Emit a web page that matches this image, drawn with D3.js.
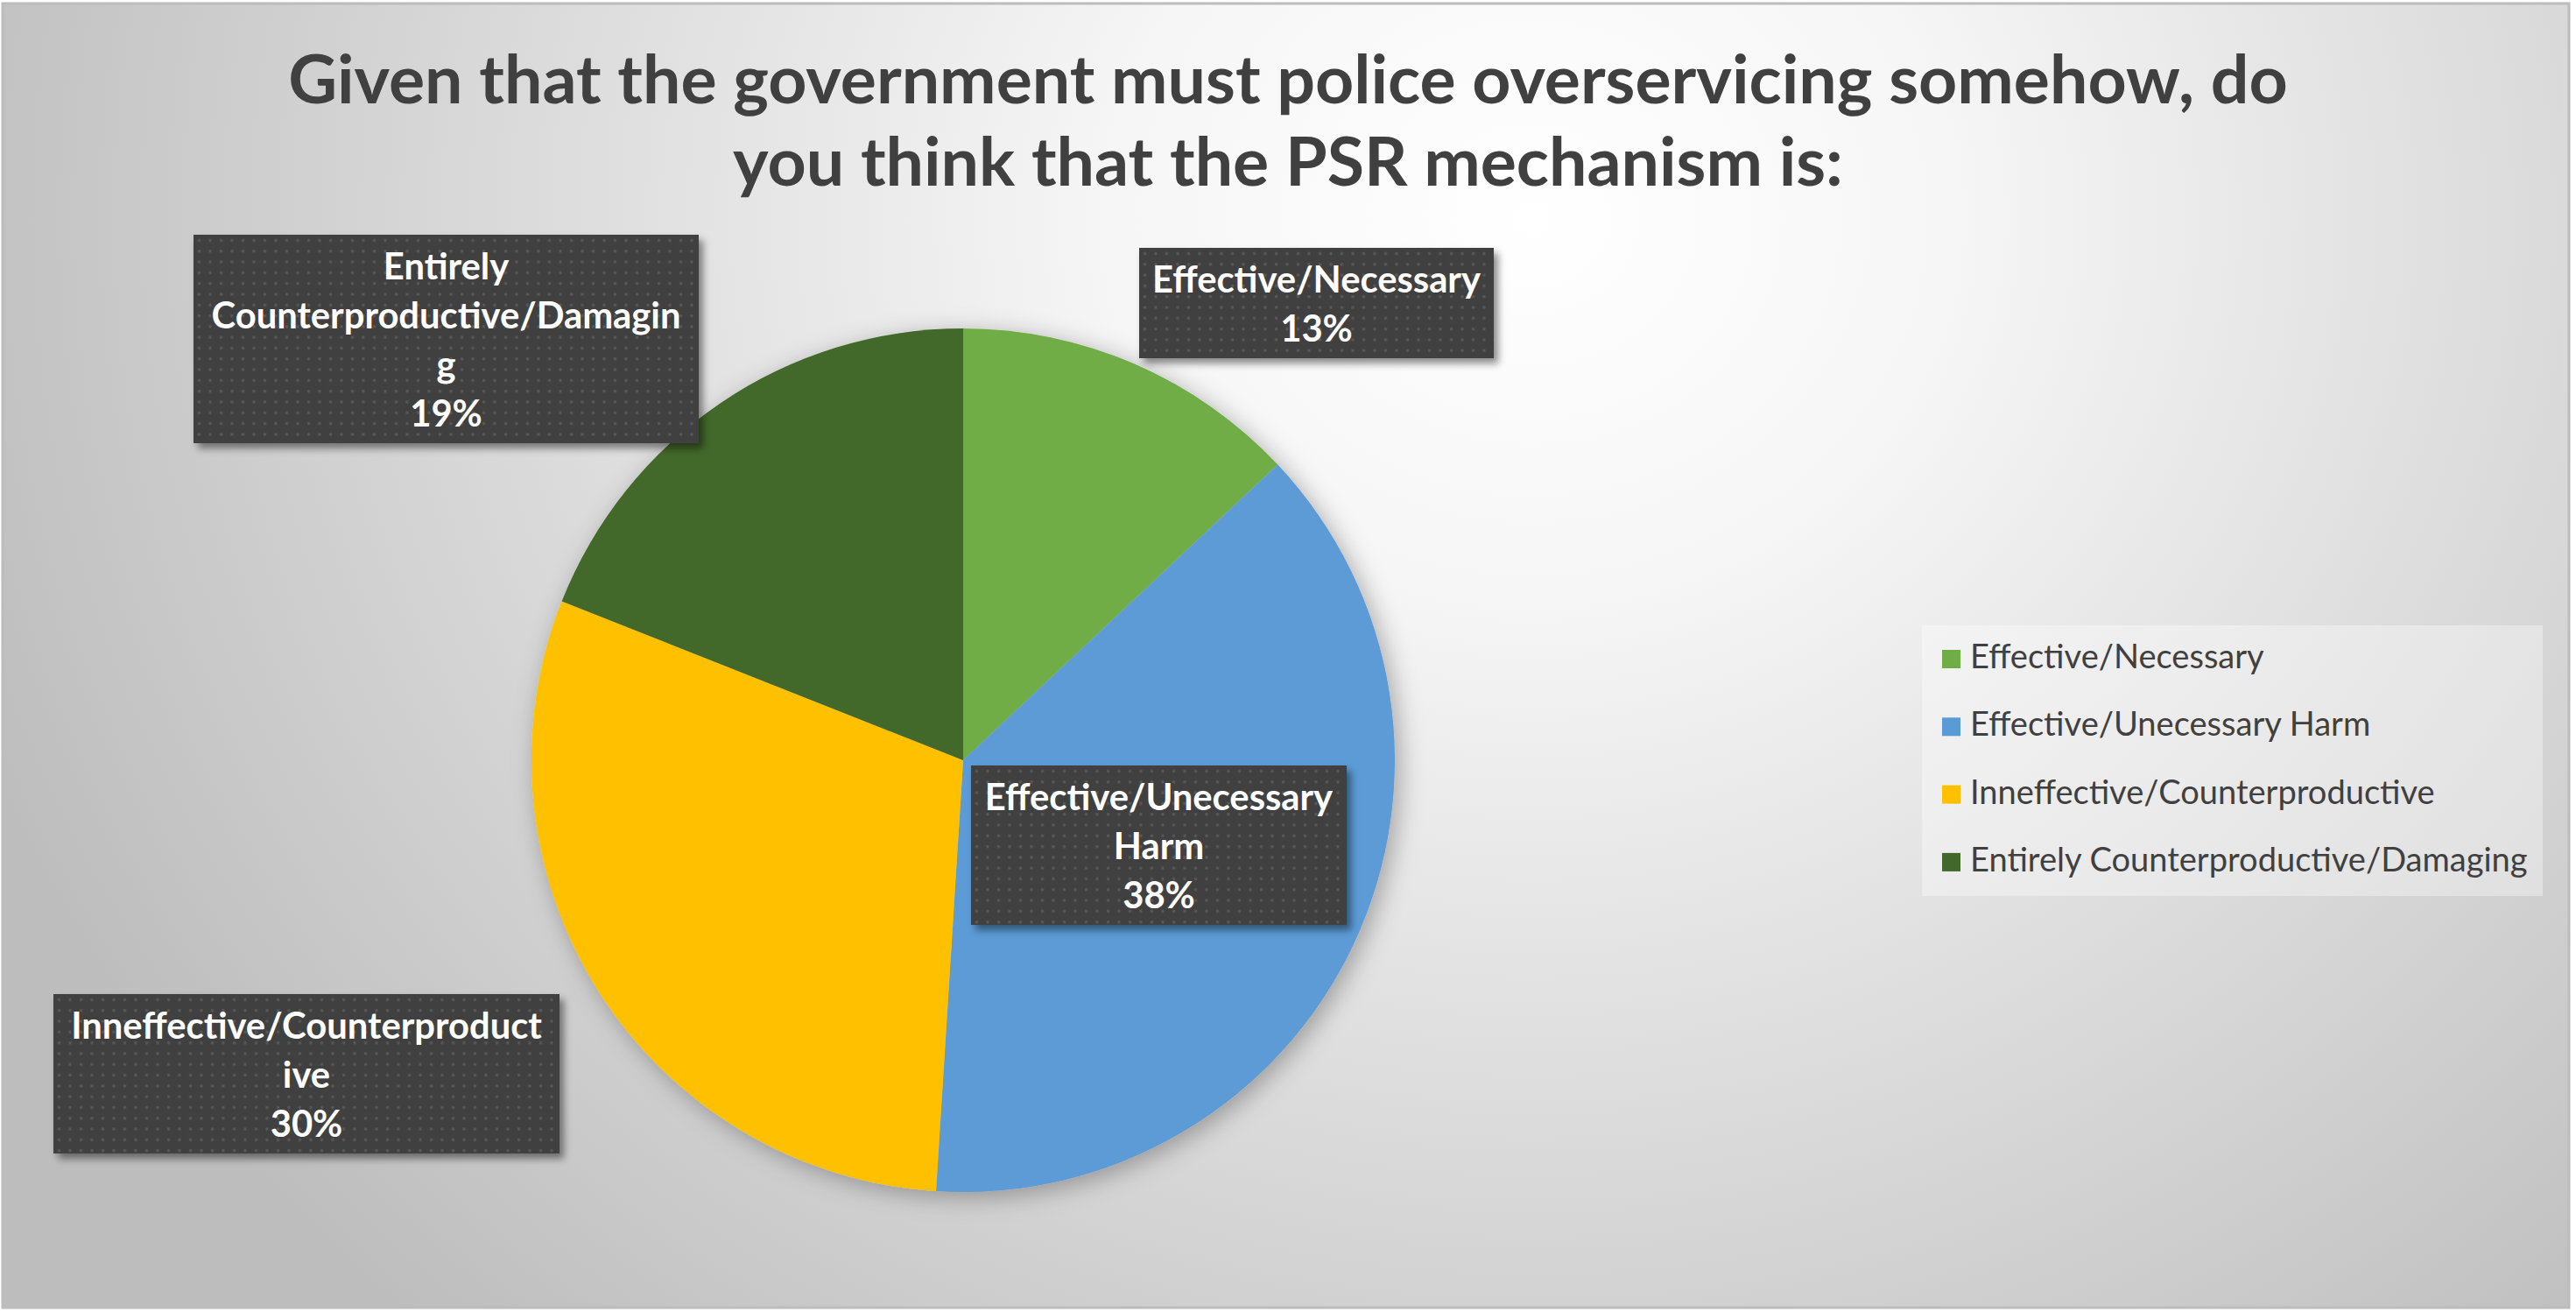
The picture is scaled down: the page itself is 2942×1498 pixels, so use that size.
<!DOCTYPE html>
<html>
<head>
<meta charset="utf-8">
<script src="https://cdn.jsdelivr.net/npm/d3@7"></script>
<style>
  body { margin: 0; background: #ffffff; }
  svg { display: block; }
</style>
</head>
<body>
<div id="chart"></div>
<script>
// data
const categories = ["Effective/Necessary", "Effective/Unecessary Harm", "Inneffective/Counterproductive", "Entirely Counterproductive/Damaging"];
const values = [13, 38, 30, 19];
const sliceColors = ["#70AD47", "#5B9BD5", "#FFC000", "#43682B"];
// data label text as it wraps in the original boxes
const labelLines = [
  ["Effective/Necessary"],
  ["Effective/Unecessary", "Harm"],
  ["Inneffective/Counterproduct", "ive"],
  ["Entirely", "Counterproductive/Damagin", "g"]
];
const titleLines = ["Given that the government must police overservicing somehow, do", "you think that the PSR mechanism is:"];

// layout
const W = 2942, H = 1498;
const cx = 1100, cy = 868, radius = 493;
const labelBoxes = [
  {x: 1301, y: 283, w: 405},
  {x: 1109, y: 874, w: 429},
  {x: 61, y: 1135, w: 578},
  {x: 221, y: 268, w: 577}
];
const lineH = 56;
const font = "Lato, 'Open Sans', sans-serif";

const svg = d3.select("#chart")
  .append("svg")
    .attr("width", W)
    .attr("height", H);

const defs = svg.append("defs");

// background gradient
const grad = defs.append("radialGradient")
    .attr("id", "bg")
    .attr("gradientUnits", "userSpaceOnUse")
    .attr("cx", 1750).attr("cy", 250).attr("r", 1900)
    .attr("gradientTransform", "translate(1750,250) scale(1,0.9) translate(-1750,-250)");
grad.append("stop").attr("offset", 0).attr("stop-color", "#ffffff");
grad.append("stop").attr("offset", 0.25).attr("stop-color", "#f6f6f6");
grad.append("stop").attr("offset", 1).attr("stop-color", "#bdbdbd");

// dotted fill of the label boxes
const pat = defs.append("pattern")
    .attr("id", "dots")
    .attr("patternUnits", "userSpaceOnUse")
    .attr("width", 12.5).attr("height", 12.3);
pat.append("rect").attr("width", 12.5).attr("height", 12.3).attr("fill", "#404040");
pat.append("rect").attr("x", 5).attr("y", 5).attr("width", 3).attr("height", 3).attr("fill", "#595959");

const shadow = defs.append("filter").attr("id", "boxShadow")
    .attr("x", "-10%").attr("y", "-10%").attr("width", "130%").attr("height", "140%");
shadow.append("feDropShadow")
    .attr("dx", 5).attr("dy", 6).attr("stdDeviation", 4)
    .attr("flood-color", "#000").attr("flood-opacity", 0.45);

const pieShadow = defs.append("filter").attr("id", "pieShadow")
    .attr("x", "-20%").attr("y", "-20%").attr("width", "140%").attr("height", "140%");
pieShadow.append("feDropShadow")
    .attr("dx", 6).attr("dy", 6).attr("stdDeviation", 14)
    .attr("flood-color", "#000").attr("flood-opacity", 0.3);

// chart area
svg.append("rect")
    .attr("x", 3).attr("y", 4)
    .attr("width", 2931).attr("height", 1489)
    .attr("fill", "url(#bg)")
    .attr("stroke", "#bcbcbc")
    .attr("stroke-width", 3);

// helper: pick a font size so that a text gets a target width
function fitSize(str, weight, target) {
  const t = svg.append("text")
      .style("font-family", font)
      .style("font-weight", weight)
      .style("font-size", "100px")
      .text(str);
  const len = t.node().getComputedTextLength();
  t.remove();
  return 100 * target / len;
}

// title
const titleSize = fitSize(titleLines[0], 700, 2284);
svg.append("g").selectAll("text")
  .data(titleLines)
  .enter()
  .append("text")
    .attr("x", W / 2)
    .attr("y", (d, i) => 118 + i * 94)
    .attr("text-anchor", "middle")
    .style("font-family", font)
    .style("font-weight", 700)
    .style("font-size", titleSize + "px")
    .style("fill", "#404040")
    .text(d => d);

// pie
const pie = d3.pie().sort(null).value(d => d);
const arc = d3.arc().innerRadius(0).outerRadius(radius);
const arcs = pie(values);

svg.append("g")
    .attr("transform", `translate(${cx},${cy})`)
    .attr("filter", "url(#pieShadow)")
  .selectAll("path")
  .data(arcs)
  .enter()
  .append("path")
    .attr("d", arc)
    .attr("fill", (d, i) => sliceColors[i]);

// data labels
const labelSize = fitSize(labelLines[0][0], 700, 375);
const total = d3.sum(values);
const labels = svg.append("g").selectAll("g")
  .data(arcs)
  .enter()
  .append("g")
    .attr("transform", (d, i) => `translate(${labelBoxes[i].x},${labelBoxes[i].y})`);

labels.append("rect")
    .attr("width", (d, i) => labelBoxes[i].w)
    .attr("height", (d, i) => 14 + lineH * (labelLines[i].length + 1))
    .attr("fill", "url(#dots)")
    .attr("filter", "url(#boxShadow)");

labels.each(function(d, i) {
  const lines = labelLines[i].concat([Math.round(d.value / total * 100) + "%"]);
  d3.select(this).selectAll("text")
    .data(lines)
    .enter()
    .append("text")
      .attr("x", labelBoxes[i].w / 2)
      .attr("y", (t, j) => 51 + j * lineH)
      .attr("text-anchor", "middle")
      .style("font-family", font)
      .style("font-weight", 700)
      .style("font-size", labelSize + "px")
      .style("fill", "#ffffff")
      .text(t => t);
});

// legend
const legendSize = fitSize(categories[3], 400, 637);
const legend = svg.append("g").attr("transform", "translate(2195,714)");
legend.append("rect")
    .attr("width", 709).attr("height", 309)
    .attr("fill", "#ffffff")
    .attr("fill-opacity", 0.35);

const items = legend.selectAll("g.item")
  .data(categories)
  .enter()
  .append("g")
    .attr("class", "item")
    .attr("transform", (d, i) => `translate(0,${49 + i * 77.3})`);

items.append("rect")
    .attr("x", 23).attr("y", -21)
    .attr("width", 21).attr("height", 21)
    .attr("fill", (d, i) => sliceColors[i]);

items.append("text")
    .attr("x", 55)
    .attr("y", 0)
    .style("font-family", font)
    .style("font-size", legendSize + "px")
    .style("fill", "#404040")
    .text(d => d);
</script>
</body>
</html>
